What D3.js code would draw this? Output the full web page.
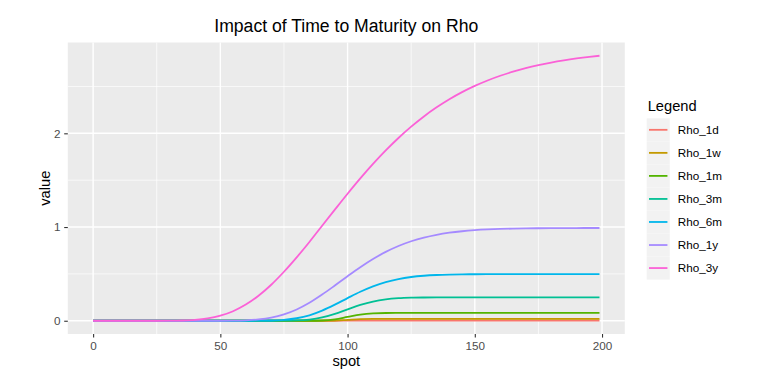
<!DOCTYPE html>
<html>
<head>
<meta charset="utf-8">
<script src="https://cdn.jsdelivr.net/npm/d3@7"></script>
<style>
  body { margin: 0; background: #fff; }
  svg { display: block; font-family: "Liberation Sans", Arial, Helvetica, sans-serif; }
</style>
</head>
<body>
<div id="chart"></div>
<script>
const spots = [0, 5, 10, 15, 20, 25, 30, 35, 40, 45, 50, 55, 60, 65, 70, 75, 80, 85, 90, 95,
    100, 105, 110, 115, 120, 125, 130, 135, 140, 145, 150, 155, 160, 165, 170, 175, 180, 185, 190, 195, 199];

const seriesNames = ["Rho_1d", "Rho_1w", "Rho_1m", "Rho_3m", "Rho_6m", "Rho_1y", "Rho_3y"];
const seriesColors = ["#F8766D", "#C49A00", "#53B400", "#00C094", "#00B6EB", "#A58AFF", "#FB61D7"];

const rho_1d = [0, 0, 0, 0, 0, 0, 0, 0, 0, 0, 0, 0, 0, 0, 0, 0, 0, 0, 0, 0,
    0.0014, 0.0027, 0.0027, 0.0027, 0.0027, 0.0027, 0.0027, 0.0027, 0.0027, 0.0027, 0.0027, 0.0027, 0.0027, 0.0027, 0.0027, 0.0027, 0.0027, 0.0027, 0.0027, 0.0027, 0.0027];
const rho_1w = [0, 0, 0, 0, 0, 0, 0, 0, 0, 0, 0, 0, 0, 0, 0, 0, 0, 0, 0, 0.0006,
    0.0095, 0.0184, 0.0192, 0.0192, 0.0192, 0.0192, 0.0192, 0.0192, 0.0192, 0.0192, 0.0192, 0.0192, 0.0192, 0.0192, 0.0192, 0.0192, 0.0192, 0.0192, 0.0192, 0.0192, 0.0192];
const rho_1m = [0, 0, 0, 0, 0, 0, 0, 0, 0, 0, 0, 0, 0, 0, 0, 0, 0, 0.0002, 0.0027, 0.0153,
    0.0411, 0.0664, 0.0790, 0.0826, 0.0832, 0.0833, 0.0833, 0.0833, 0.0833, 0.0833, 0.0833, 0.0833, 0.0833, 0.0833, 0.0833, 0.0833, 0.0833, 0.0833, 0.0833, 0.0833, 0.0833];
const rho_3m = [0, 0, 0, 0, 0, 0, 0, 0, 0, 0, 0, 0, 0, 0, 0, 0.0005, 0.0030, 0.0122, 0.0350, 0.0736,
    0.1222, 0.1692, 0.2053, 0.2282, 0.2404, 0.2460, 0.2482, 0.2490, 0.2493, 0.2494, 0.2494, 0.2494, 0.2494, 0.2494, 0.2494, 0.2494, 0.2494, 0.2494, 0.2494, 0.2494, 0.2494];
const rho_6m = [0, 0, 0, 0, 0, 0, 0, 0, 0, 0, 0, 0, 0.0001, 0.0005, 0.0026, 0.0095, 0.0266, 0.0584, 0.1086, 0.1718,
    0.2417, 0.3093, 0.3674, 0.4128, 0.4453, 0.4669, 0.4804, 0.4884, 0.4928, 0.4951, 0.4964, 0.4970, 0.4973, 0.4974, 0.4975, 0.4975, 0.4975, 0.4975, 0.4975, 0.4975, 0.4975];
const rho_1y = [0, 0, 0, 0, 0, 0, 0, 0, 0, 0, 0.0002, 0.0012, 0.0046, 0.0136, 0.0329, 0.0677, 0.1206, 0.1916, 0.2792, 0.3758,
    0.4753, 0.5712, 0.6585, 0.7344, 0.7975, 0.8482, 0.8876, 0.9173, 0.9393, 0.9551, 0.9663, 0.9741, 0.9795, 0.9830, 0.9855, 0.9871, 0.9882, 0.9889, 0.9893, 0.9896, 0.9897];
const rho_3y = [0, 0, 0, 0, 0, 0.0001, 0.0005, 0.0027, 0.0092, 0.0243, 0.0536, 0.1016, 0.1723, 0.2667, 0.3843, 0.5229, 0.6766, 0.8408, 1.0140, 1.1855,
    1.3552, 1.5188, 1.6734, 1.8178, 1.9503, 2.0711, 2.1803, 2.2772, 2.3637, 2.4397, 2.5060, 2.5640, 2.6144, 2.6577, 2.6953, 2.7273, 2.7550, 2.7785, 2.7986, 2.8158, 2.8277];

const seriesValues = [rho_1d, rho_1w, rho_1m, rho_3m, rho_6m, rho_1y, rho_3y];

const xMajor = [0, 50, 100, 150, 200];
const xMinor = [25, 75, 125, 175];
const yMajor = [0, 1, 2];
const yMinor = [0.5, 1.5, 2.5];

const W = 767, H = 388;
const panel = { left: 67.8, right: 624.8, top: 42.5, bottom: 334 };

const svg = d3.select("#chart")
    .append("svg")
    .attr("width", W)
    .attr("height", H);

// ggplot style 5% expansion
const xMin = d3.min(spots), xMax = d3.max(spots);
const xPad = (xMax - xMin) * 0.05;
const yMaxVal = d3.max(seriesValues, s => d3.max(s));
const yPad = yMaxVal * 0.05;

const x = d3.scaleLinear()
    .domain([xMin - xPad, xMax + xPad])
    .range([panel.left, panel.right]);

const y = d3.scaleLinear()
    .domain([0 - yPad, yMaxVal + yPad])
    .range([panel.bottom, panel.top]);

svg.append("rect")
    .attr("x", panel.left)
    .attr("y", panel.top)
    .attr("width", panel.right - panel.left)
    .attr("height", panel.bottom - panel.top)
    .attr("fill", "#EBEBEB");

const grid = svg.append("g").attr("class", "grid");

grid.selectAll(".x-minor")
    .data(xMinor)
    .enter()
    .append("line")
    .attr("x1", d => x(d)).attr("x2", d => x(d))
    .attr("y1", panel.top).attr("y2", panel.bottom)
    .attr("stroke", "#fff").attr("stroke-width", 0.7);

grid.selectAll(".y-minor")
    .data(yMinor)
    .enter()
    .append("line")
    .attr("x1", panel.left).attr("x2", panel.right)
    .attr("y1", d => y(d)).attr("y2", d => y(d))
    .attr("stroke", "#fff").attr("stroke-width", 0.7);

grid.selectAll(".x-major")
    .data(xMajor)
    .enter()
    .append("line")
    .attr("x1", d => x(d)).attr("x2", d => x(d))
    .attr("y1", panel.top).attr("y2", panel.bottom)
    .attr("stroke", "#fff").attr("stroke-width", 1.4);

grid.selectAll(".y-major")
    .data(yMajor)
    .enter()
    .append("line")
    .attr("x1", panel.left).attr("x2", panel.right)
    .attr("y1", d => y(d)).attr("y2", d => y(d))
    .attr("stroke", "#fff").attr("stroke-width", 1.4);

// lines
const line = d3.line()
    .x(d => x(d[0]))
    .y(d => y(d[1]))
    .curve(d3.curveMonotoneX);

svg.append("g")
    .selectAll("path")
    .data(seriesValues)
    .enter()
    .append("path")
    .attr("d", vals => line(spots.map((s, i) => [s, vals[i]])))
    .attr("fill", "none")
    .attr("stroke", (d, i) => seriesColors[i])
    .attr("stroke-width", 1.8);

// axes
const xAxis = svg.append("g")
    .attr("class", "x-axis")
    .attr("transform", `translate(0,${panel.bottom})`)
    .call(d3.axisBottom(x).tickValues(xMajor).tickFormat(d3.format("d")).tickSize(3.6).tickPadding(4));

const yAxis = svg.append("g")
    .attr("class", "y-axis")
    .attr("transform", `translate(${panel.left},0)`)
    .call(d3.axisLeft(y).tickValues(yMajor).tickFormat(d3.format("d")).tickSize(3.6).tickPadding(3.6));

svg.selectAll(".x-axis path, .y-axis path").remove();

svg.selectAll(".x-axis line, .y-axis line")
    .attr("stroke", "#333333")
    .attr("stroke-width", 1.1);

svg.selectAll(".x-axis text, .y-axis text")
    .attr("fill", "#4D4D4D")
    .style("font-size", "11.7px")
    .style("font-family", "'Liberation Sans', Arial, sans-serif");

// titles
svg.append("text")
    .attr("x", (panel.left + panel.right) / 2)
    .attr("y", 32)
    .attr("text-anchor", "middle")
    .style("font-size", "17.6px")
    .attr("fill", "#000")
    .text("Impact of Time to Maturity on Rho");

svg.append("text")
    .attr("x", (panel.left + panel.right) / 2)
    .attr("y", 365.7)
    .attr("text-anchor", "middle")
    .style("font-size", "14.7px")
    .attr("fill", "#000")
    .text("spot");

svg.append("text")
    .attr("transform", `translate(50,${(panel.top + panel.bottom) / 2}) rotate(-90)`)
    .attr("text-anchor", "middle")
    .style("font-size", "14.7px")
    .attr("fill", "#000")
    .text("value");

// legend
const legend = svg.append("g")
    .attr("class", "legend")
    .attr("transform", "translate(646.7,118.3)");

const keySize = 23.04;

legend.append("text")
    .attr("x", 1)
    .attr("y", -7.8)
    .style("font-size", "14.7px")
    .attr("fill", "#000")
    .text("Legend");

const items = legend.selectAll(".legend-item")
    .data(seriesNames)
    .enter()
    .append("g")
    .attr("class", "legend-item")
    .attr("transform", (d, i) => `translate(0,${i * keySize})`);

items.append("rect")
    .attr("width", keySize)
    .attr("height", keySize)
    .attr("fill", "#F2F2F2");

items.append("line")
    .attr("x1", keySize * 0.1)
    .attr("x2", keySize * 0.9)
    .attr("y1", keySize / 2)
    .attr("y2", keySize / 2)
    .attr("stroke", (d, i) => seriesColors[i])
    .attr("stroke-width", 1.8);

items.append("text")
    .attr("x", 31)
    .attr("y", keySize / 2)
    .attr("dy", "0.35em")
    .style("font-size", "11.7px")
    .attr("fill", "#000")
    .text(d => d);
</script>
</body>
</html>
